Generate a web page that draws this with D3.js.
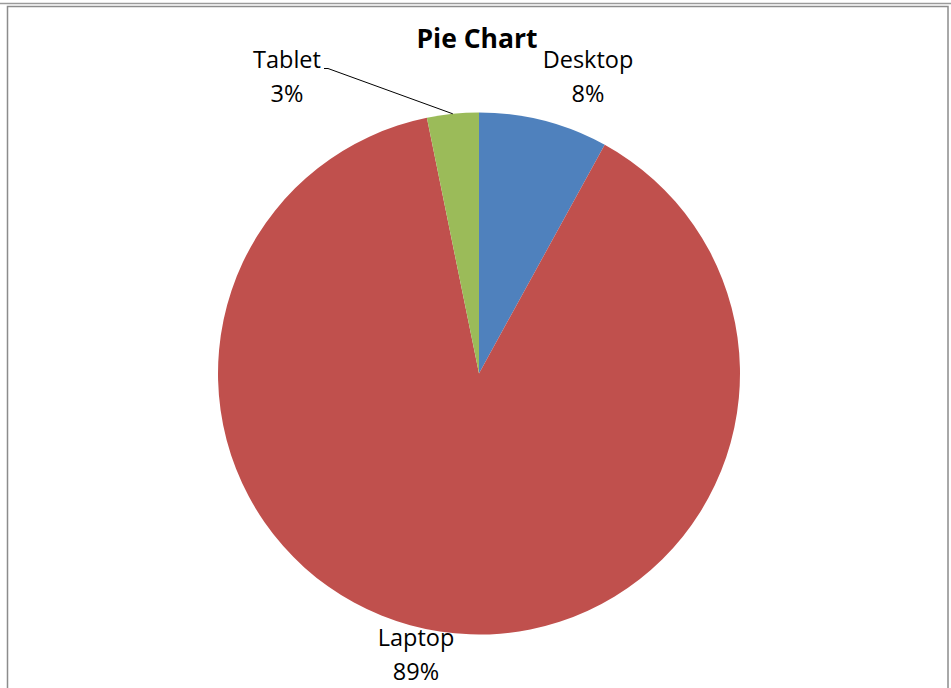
<!DOCTYPE html>
<html><head><meta charset="utf-8">
<script src="https://cdn.jsdelivr.net/npm/d3@7"></script>
<style>html,body{margin:0;padding:0;background:#fff;overflow:hidden}</style>
</head><body>
<svg id="c" width="951" height="688"></svg>
<script>
const categories = ["Desktop", "Laptop", "Tablet"];
const values = [8.0, 88.8, 3.2];
const colors = ["#4F81BD", "#C0504D", "#9BBB59"];
const title = "Pie Chart";

const svg = d3.select("#c");
const font = "'Open Sans', sans-serif";
// frame
svg.append("line").attr("x1",0).attr("x2",951).attr("y1",3.5).attr("y2",3.5).attr("stroke","#9a9a9a").attr("stroke-width",1.5);
svg.append("rect").attr("x",7.5).attr("y",6.5).attr("width",940.5).attr("height",700)
  .attr("fill","#fff").attr("stroke","#8c8c8c").attr("stroke-width",1.5);

const cx = 479, cy = 373.5, r = 261;
const total = d3.sum(values);
const pie = d3.pie().sort(null).value(d => d)(values);
const arc = d3.arc().innerRadius(0).outerRadius(r);
const g = svg.append("g").attr("transform", `translate(${cx},${cy})`);
g.selectAll("path").data(pie).join("path").attr("d", arc).attr("fill", (d,i) => colors[i]);

svg.append("text").attr("x",477).attr("y",48).attr("text-anchor","middle")
  .attr("font-family",font).attr("font-weight","bold").attr("font-size",26.5).text(title);

const labelPos = [[588,68],[416,646],[287,68]];
const fmt = v => Math.round(v/total*100) + "%";
categories.forEach((c,i) => {
  const t = svg.append("text").attr("text-anchor","middle").attr("font-family",font).attr("font-size",23.5).attr("fill","#000");
  t.append("tspan").attr("x",labelPos[i][0]).attr("y",labelPos[i][1]).text(c);
  t.append("tspan").attr("x",labelPos[i][0]).attr("y",labelPos[i][1]+34).text(fmt(values[i]));
});
// leader line for Tablet
const tab = pie[2];
const mid = (tab.startAngle + tab.endAngle)/2;
const ex = cx + Math.sin(mid)*r, ey = cy - Math.cos(mid)*r;
svg.append("path").attr("d", `M324,68.5 L328,68.5 L${ex},${ey}`).attr("fill","none").attr("stroke","#000").attr("stroke-width",1);
</script>
</body></html>
